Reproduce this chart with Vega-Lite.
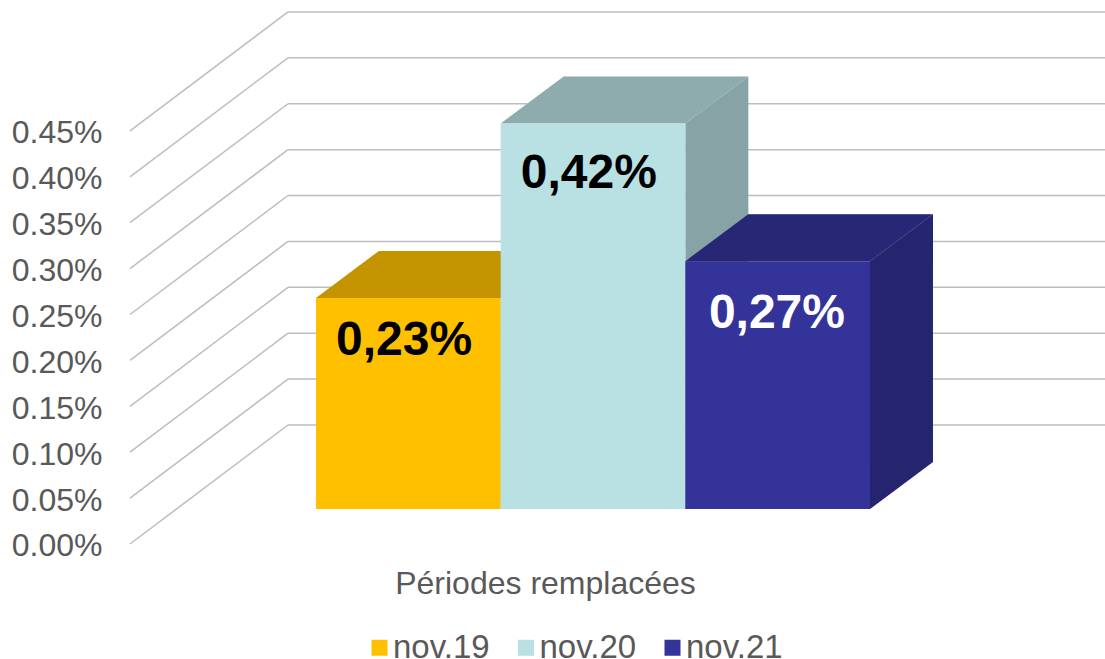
{
"$schema":"https://vega.github.io/schema/vega-lite/v6.json",
"autosize":{"type":"none"},
"padding":{"left":130,"top":0,"right":0,"bottom":0},
"width":975,"height":659,
"background":"white",
"view":{"stroke":null},
"config":{"font":"Liberation Sans"},
"datasets":{
"bars":[{"period":"nov.19","value":0.23,"label":"0,23%"},{"period":"nov.20","value":0.42,"label":"0,42%"},{"period":"nov.21","value":0.27,"label":"0,27%"}],
"ticks":[{"tick":0},{"tick":0.05},{"tick":0.1},{"tick":0.15},{"tick":0.2},{"tick":0.25},{"tick":0.3},{"tick":0.35},{"tick":0.4},{"tick":0.45}]
},
"layer":[
{"data":{"name":"ticks"},
"transform":[{"calculate":"datum.tick+0.1296","as":"back"}],
"mark":{"type":"rule","color":"#bdbdbd","strokeWidth":1.5},
"encoding":{
"x":{"datum":-1.0072,"type":"quantitative","scale":{"domain":[-1.0072,4.2725],"range":[0,975],"nice":false,"zero":false},
"axis":{"title":"Périodes remplacées","labels":false,"ticks":false,"domain":false,"grid":false,"titleFont":"Liberation Sans","titleFontSize":32,"titleFontWeight":"normal","titleColor":"#595959","titleX":415,"titleY":-76,"titleAlign":"center","titleBaseline":"middle"}},
"x2":{"datum":-0.1516},
"y":{"field":"tick","type":"quantitative","scale":{"domain":[-0.1253,0.5926],"range":[659,0],"nice":false,"zero":false},
"axis":{"title":null,"values":[0,0.05,0.1,0.15,0.2,0.25,0.3,0.35,0.4,0.45],"labelExpr":"format(datum.value,'.2f')+'%'","ticks":false,"domain":false,"grid":false,"labelFont":"Liberation Sans","labelFontSize":32,"labelColor":"#595959","labelPadding":28,"labelOffset":2}},
"y2":{"field":"back"}}},
{"data":{"name":"ticks"},
"transform":[{"calculate":"datum.tick+0.1296","as":"back"}],
"mark":{"type":"rule","color":"#bdbdbd","strokeWidth":1.5},
"encoding":{"x":{"datum":-0.1516,"type":"quantitative"},"x2":{"datum":4.2725},"y":{"field":"back","type":"quantitative"}}},
{"data":{"name":"bars"},
"transform":[{"calculate":"indexof(['nov.19','nov.20','nov.21'],datum.period)","as":"i"},{"calculate":"[0,1]","as":"d"},{"flatten":["d"]},
{"calculate":"datum.i+1+datum.d*0.341","as":"sx"},{"calculate":"0.0381+datum.d*0.0512","as":"sy0"},{"calculate":"datum.value+0.0381+datum.d*0.0512","as":"sy1"}],
"layer":[
{"mark":{"type":"area"},"encoding":{"x":{"field":"sx","type":"quantitative"},"y":{"field":"sy0","type":"quantitative"},"y2":{"field":"sy1"},"color":{"field":"period","type":"nominal"},"detail":{"field":"period"}}},
{"mark":{"type":"area","color":"black","opacity":0.27},"encoding":{"x":{"field":"sx","type":"quantitative"},"y":{"field":"sy0","type":"quantitative"},"y2":{"field":"sy1"},"detail":{"field":"period"}}}
]},
{"data":{"name":"bars"},
"transform":[{"calculate":"indexof(['nov.19','nov.20','nov.21'],datum.period)","as":"i"},{"calculate":"[0,1]","as":"d"},{"flatten":["d"]},
{"calculate":"datum.i+datum.d*0.341","as":"tx0"},{"calculate":"datum.i+1+datum.d*0.341","as":"tx1"},{"calculate":"datum.value+0.0381+datum.d*0.0512","as":"ty"}],
"layer":[
{"mark":{"type":"area","orient":"horizontal"},"encoding":{"y":{"field":"ty","type":"quantitative"},"x":{"field":"tx0","type":"quantitative"},"x2":{"field":"tx1"},"color":{"field":"period","type":"nominal"},"detail":{"field":"period"}}},
{"mark":{"type":"area","orient":"horizontal","color":"black","opacity":0.23},"encoding":{"y":{"field":"ty","type":"quantitative"},"x":{"field":"tx0","type":"quantitative"},"x2":{"field":"tx1"},"detail":{"field":"period"}}}
]},
{"data":{"name":"bars"},
"transform":[{"calculate":"indexof(['nov.19','nov.20','nov.21'],datum.period)","as":"i"},{"calculate":"datum.i+1","as":"i1"},{"calculate":"datum.value+0.0381","as":"top"},{"calculate":"0.0381","as":"base"}],
"mark":{"type":"rect"},
"encoding":{"x":{"field":"i","type":"quantitative"},"x2":{"field":"i1"},"y":{"field":"base","type":"quantitative"},"y2":{"field":"top"},
"color":{"field":"period","type":"nominal","scale":{"domain":["nov.19","nov.20","nov.21"],"range":["#FFC000","#B9E0E3","#333399"]},
"legend":{"title":null,"orient":"none","legendX":233,"legendY":631,"direction":"horizontal","symbolType":"square","symbolSize":256,"symbolStrokeWidth":0,"symbolOpacity":1,"labelFont":"Liberation Sans","labelFontSize":33,"labelColor":"#595959","labelOffset":-3,"columnPadding":19.5,"labelLimit":200}}}},
{"data":{"name":"bars"},
"transform":[{"calculate":"indexof(['nov.19','nov.20','nov.21'],datum.period)+(datum.period==='nov.21'?0.496:0.477)","as":"lx"},{"calculate":"datum.value+0.0381-(datum.period==='nov.19'?0.0465:datum.period==='nov.20'?0.055:0.0575)","as":"ly"}],
"mark":{"type":"text","font":"Liberation Sans","fontWeight":"bold","fontSize":48,"align":"center","baseline":"middle"},
"encoding":{"x":{"field":"lx","type":"quantitative"},"y":{"field":"ly","type":"quantitative"},"text":{"field":"label"},
"color":{"condition":{"test":"datum.period==='nov.21'","value":"white"},"value":"black"}}}
]
}
